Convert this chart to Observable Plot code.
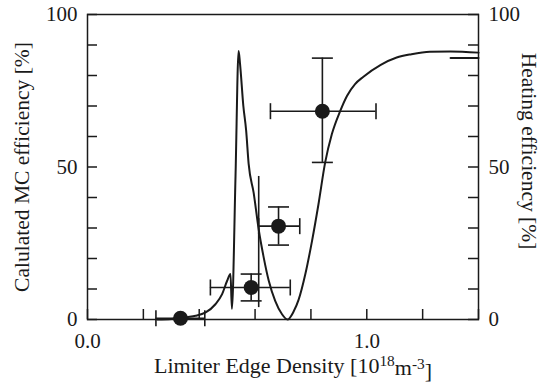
<!DOCTYPE html>
<html><head><meta charset="utf-8">
<script src="https://cdn.jsdelivr.net/npm/d3@7"></script>
<script src="https://cdn.jsdelivr.net/npm/@observablehq/plot@0.6"></script>
<style>body{margin:0;background:#fff}</style>
</head><body><div id="chart"></div>
<script>
// Heating-efficiency curve
const curveX = [0.25, 0.30, 0.333, 0.36, 0.387, 0.423, 0.458, 0.482, 0.50, 0.512, 0.517, 0.530, 0.541, 0.546, 0.558, 0.568, 0.577, 0.595, 0.613, 0.631, 0.649, 0.672, 0.696, 0.716, 0.738, 0.756, 0.78, 0.804, 0.827, 0.851, 0.875, 0.905, 0.929, 0.958, 0.988, 1.05, 1.107, 1.16, 1.226, 1.30, 1.40];
const curveY = [0, 0.2, 0.5, 0.8, 1.2, 2.3, 5.0, 8.3, 12.7, 14.9, 3.5, 47, 88, 84, 70, 62, 51, 41.5, 29.5, 20.3, 12.7, 6.1, 1.8, 0, 2.6, 6.5, 14.9, 25.8, 37.8, 51.5, 60.8, 68.4, 73.3, 77.2, 79.6, 83.5, 85.9, 87.0, 87.8, 87.9, 87.5];
const tailX = [1.30, 1.40];
const tailY = [85.7, 85.7];

// Measured MC efficiency points with error bars
const pointX = [0.333, 0.586, 0.684, 0.841];
const pointY = [0.4, 10.5, 30.6, 68.3];
const xErrLo = [0.245, 0.44, 0.613, 0.655];
const xErrHi = [0.42, 0.726, 0.76, 1.033];
const yErrLo = [null, 6.1, 24.4, 51.5];
const yErrHi = [null, 14.9, 36.9, 85.7];
// extra uncapped vertical bar
const barX = [0.613];
const barLo = [3.9];
const barHi = [46.9];

// ticks
const xMinorTicks = [0, 0.2, 0.4, 0.6, 0.8, 1.0, 1.2, 1.4];
const xTickLabels = [0.0, 1.0];
const yMinorTicks = [0, 10, 20, 30, 40, 50, 60, 70, 80, 90, 100];
const yTickLabels = [0, 50, 100];

const xTitle = "Limiter Edge Density [10^18m^-3]";
const yTitleLeft = "Calulated MC efficiency [%]";
const yTitleRight = "Heating efficiency [%]";

const curve = curveX.map((x, i) => ({x, y: curveY[i]}));
const tail = tailX.map((x, i) => ({x, y: tailY[i]}));
const pts = pointX.map((x, i) => ({x, y: pointY[i], xl: xErrLo[i], xh: xErrHi[i], yl: yErrLo[i], yh: yErrHi[i]}));
const ptsY = pts.filter(d => d.yl != null);
const bars = barX.map((x, i) => ({x, lo: barLo[i], hi: barHi[i]}));

const capV = {draw(ctx, size) { const r = Math.sqrt(size / Math.PI); ctx.moveTo(0, -r); ctx.lineTo(0, r); }};
const capH = {draw(ctx, size) { const r = Math.sqrt(size / Math.PI); ctx.moveTo(-r, 0); ctx.lineTo(r, 0); }};

const ink = "#1a1a1a";
const chart = Plot.plot({
  width: 548,
  height: 386,
  marginLeft: 87,
  marginRight: 70,
  marginTop: 14,
  marginBottom: 67,
  style: {fontFamily: "'Liberation Serif', 'Times New Roman', serif", fontSize: "21px", color: ink, background: "#fff", overflow: "visible"},
  x: {domain: [0, 1.4]},
  y: {domain: [0, 100]},
  marks: [
    Plot.frame({stroke: ink, strokeWidth: 1.5}),
    Plot.axisX(xMinorTicks, {anchor: "bottom", tickSize: -10, tickFormat: () => "", stroke: ink, strokeWidth: 1.5}),
    Plot.axisX(xTickLabels, {anchor: "bottom", tickSize: 0, tickPadding: 14, tickFormat: d => d.toFixed(1), fill: ink}),
    Plot.axisY(yMinorTicks, {anchor: "left", tickSize: -10, tickFormat: () => "", stroke: ink, strokeWidth: 1.5}),
    Plot.axisY(yTickLabels, {anchor: "left", tickSize: 0, tickPadding: 10, fill: ink}),
    Plot.axisY(yMinorTicks, {anchor: "right", tickSize: -11, tickFormat: () => "", stroke: ink, strokeWidth: 1.5}),
    Plot.axisY(yTickLabels, {anchor: "right", tickSize: 0, tickPadding: 10, fill: ink}),
    Plot.line(curve, {x: "x", y: "y", curve: "monotone-x", stroke: ink, strokeWidth: 2}),
    Plot.line(tail, {x: "x", y: "y", stroke: ink, strokeWidth: 2}),
    Plot.ruleX(bars, {x: "x", y1: "lo", y2: "hi", stroke: ink, strokeWidth: 1.6}),
    Plot.ruleY(pts, {y: "y", x1: "xl", x2: "xh", stroke: ink, strokeWidth: 1.6}),
    Plot.ruleX(ptsY, {x: "x", y1: "yl", y2: "yh", stroke: ink, strokeWidth: 1.6}),
    Plot.dot(pts, {x: "xl", y: "y", symbol: capV, r: 8, fill: "none", stroke: ink, strokeWidth: 1.6}),
    Plot.dot(pts, {x: "xh", y: "y", symbol: capV, r: 8, fill: "none", stroke: ink, strokeWidth: 1.6}),
    Plot.dot(ptsY, {x: "x", y: "yl", symbol: capH, r: 10.5, fill: "none", stroke: ink, strokeWidth: 1.6}),
    Plot.dot(ptsY, {x: "x", y: "yh", symbol: capH, r: 10.5, fill: "none", stroke: ink, strokeWidth: 1.6}),
    Plot.dot(pts, {x: "x", y: "y", r: 7.5, fill: ink, stroke: null}),
    Plot.text([xTitle], {frameAnchor: "bottom", textAnchor: "middle", dx: 10, dy: 53, fontSize: 22, fill: ink}),
    Plot.text([yTitleLeft], {frameAnchor: "left", textAnchor: "middle", rotate: -90, dx: -65, fontSize: 21.5, fill: ink}),
    Plot.text([yTitleRight], {frameAnchor: "right", textAnchor: "middle", rotate: 90, dx: 50, dy: -16, fontSize: 21.5, fill: ink})
  ]
});
document.getElementById("chart").appendChild(chart);

// superscripts in the x title
d3.select(chart).selectAll("text").filter(function() { return this.textContent === xTitle; })
  .each(function() {
    const t = d3.select(this).text("");
    t.append("tspan").text("Limiter Edge Density [10");
    t.append("tspan").attr("dy", "-0.45em").attr("font-size", "0.7em").text("18");
    t.append("tspan").attr("dy", "0.45em").text("m");
    t.append("tspan").attr("dy", "-0.45em").attr("font-size", "0.7em").text("-3");
    t.append("tspan").attr("dy", "0.45em").text("]");
  });
</script>
</body></html>
